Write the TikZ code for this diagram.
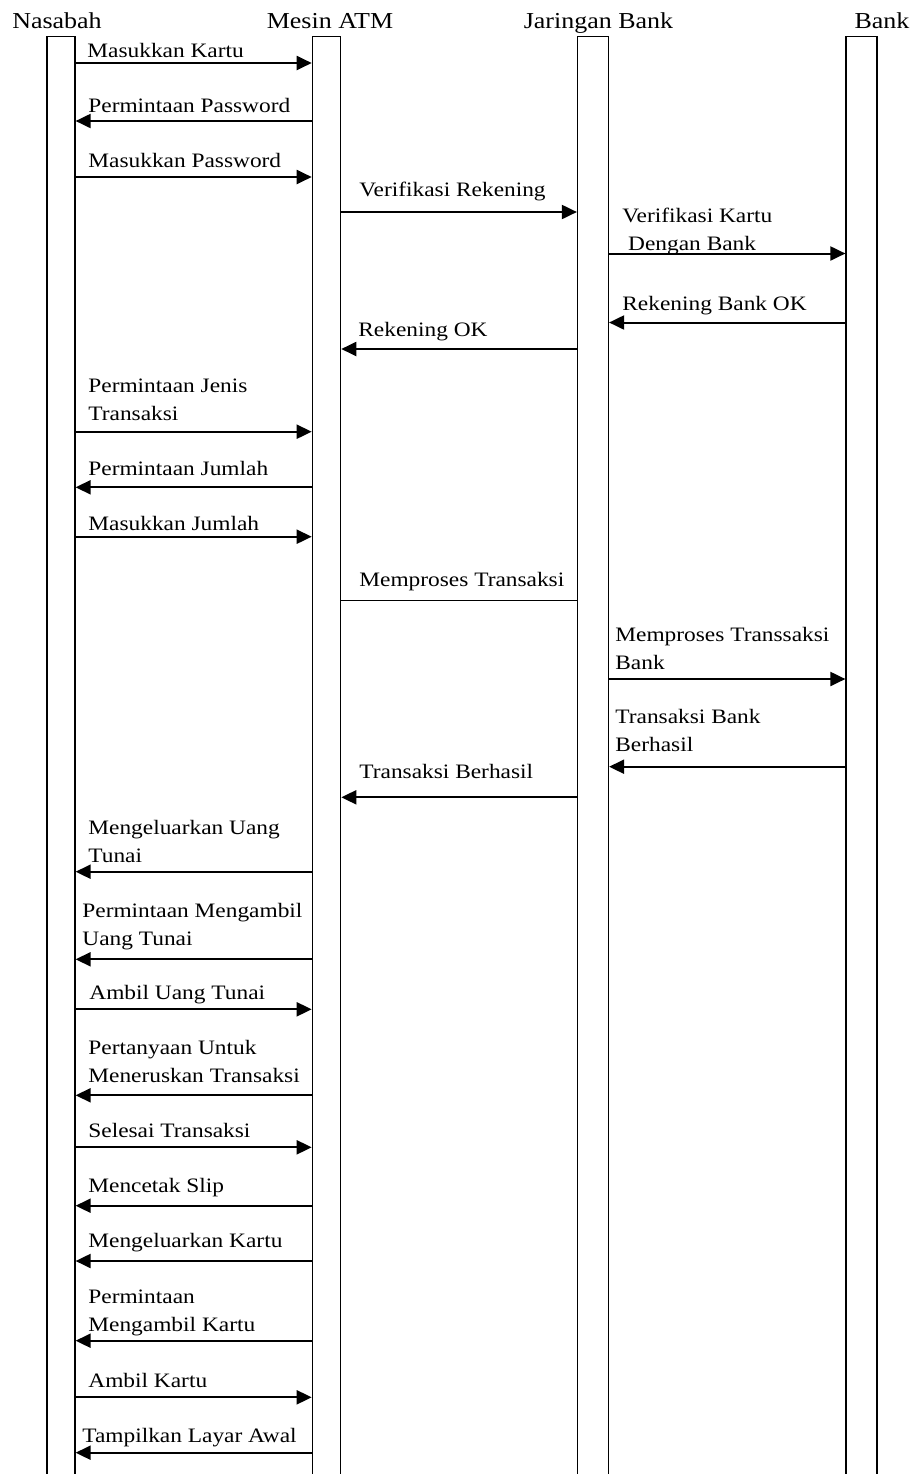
\documentclass[tikz,border=0pt]{standalone}
\usepackage{fontspec}
\setmainfont{Liberation Serif}[FakeStretch=1.14]
\usetikzlibrary{arrows.meta}

\tikzset{
  lifeline/.style={draw, line width=0.6pt, anchor=north, minimum height=735pt, inner sep=0pt},
  head/.style={anchor=base, inner sep=0pt, font=\fontsize{11.4}{13}\selectfont},
  msglabel/.style={anchor=south west, inner sep=0pt, text depth=0pt, align=left, font=\fontsize{10.25}{14}\selectfont},
  msg/.style={line width=1pt, -{Triangle[length=7.5pt,width=7pt]}},
  bare/.style={line width=0.6pt}
}

\begin{document}
\begin{tikzpicture}[x=0.5pt, y=-0.5pt]
\useasboundingbox (0,0) rectangle (916,1474);
\clip (0,0) rectangle (916,1474);

\node[head] (hnas) at (57,28.3) {Nasabah};
\node[head] (hatm) at (330,28.3) {Mesin ATM};
\node[head] (hjar) at (598.5,28.3) {Jaringan Bank};
\node[head] (hbank) at (882,28.3) {Bank};

\node[lifeline, minimum width=14pt] (nas) at (61,36) {};
\node[lifeline, minimum width=14.2pt] (atm) at (326.5,36) {};
\node[lifeline, minimum width=15.5pt] (jar) at (593,36) {};
\node[lifeline, minimum width=15.5pt] (bank) at (861.5,36) {};

\foreach \src/\dst/\yy/\lx/\ly/\txt/\kind [count=\i] in {
  nas.east/atm.west/63/87/57.7/{Masukkan Kartu}/msg,
  atm.west/nas.east/121/88/113.3/{Permintaan Password}/msg,
  nas.east/atm.west/177/88/167.5/{Masukkan Password}/msg,
  atm.east/jar.west/212/359/196.5/{Verifikasi Rekening}/msg,
  jar.east/bank.west/253.5/622/251/{Verifikasi Kartu\\\ Dengan Bank}/msg,
  bank.west/jar.east/322.5/622/310.7/{Rekening Bank OK}/msg,
  jar.west/atm.east/349/358/337.3/{Rekening OK}/msg,
  nas.east/atm.west/431.7/88/421/{Permintaan Jenis\\Transaksi}/msg,
  atm.west/nas.east/487.3/88/476/{Permintaan Jumlah}/msg,
  nas.east/atm.west/536.7/88/531/{Masukkan Jumlah}/msg,
  atm.east/jar.west/600.7/359/586.7/{Memproses Transaksi}/bare,
  jar.east/bank.west/679/615/670/{Memproses Transsaksi\\Bank}/msg,
  bank.west/jar.east/766.7/615/752.3/{Transaksi Bank\\Berhasil}/msg,
  jar.west/atm.east/797.3/359/779.3/{Transaksi Berhasil}/msg,
  atm.west/nas.east/871.7/88/862.7/{Mengeluarkan Uang\\Tunai}/msg,
  atm.west/nas.east/959.3/82/946/{Permintaan Mengambil\\Uang Tunai}/msg,
  nas.east/atm.west/1009.3/89/1000/{Ambil Uang Tunai}/msg,
  atm.west/nas.east/1095.3/88/1083.3/{Pertanyaan Untuk\\Meneruskan Transaksi}/msg,
  nas.east/atm.west/1147.3/88/1138.3/{Selesai Transaksi}/msg,
  atm.west/nas.east/1205.7/88/1193.3/{Mencetak Slip}/msg,
  atm.west/nas.east/1261/88/1247.7/{Mengeluarkan Kartu}/msg,
  atm.west/nas.east/1340.7/88/1331.7/{Permintaan\\Mengambil Kartu}/msg,
  nas.east/atm.west/1397.3/88/1388/{Ambil Kartu}/msg,
  atm.west/nas.east/1452.7/82/1442.7/{Tampilkan Layar Awal}/msg}
{
  \draw[\kind] (\src |- 0,\yy) -- (\dst |- 0,\yy);
  \node[msglabel] (m\i) at (\lx,\ly) {\txt};
}
\end{tikzpicture}
\end{document}
